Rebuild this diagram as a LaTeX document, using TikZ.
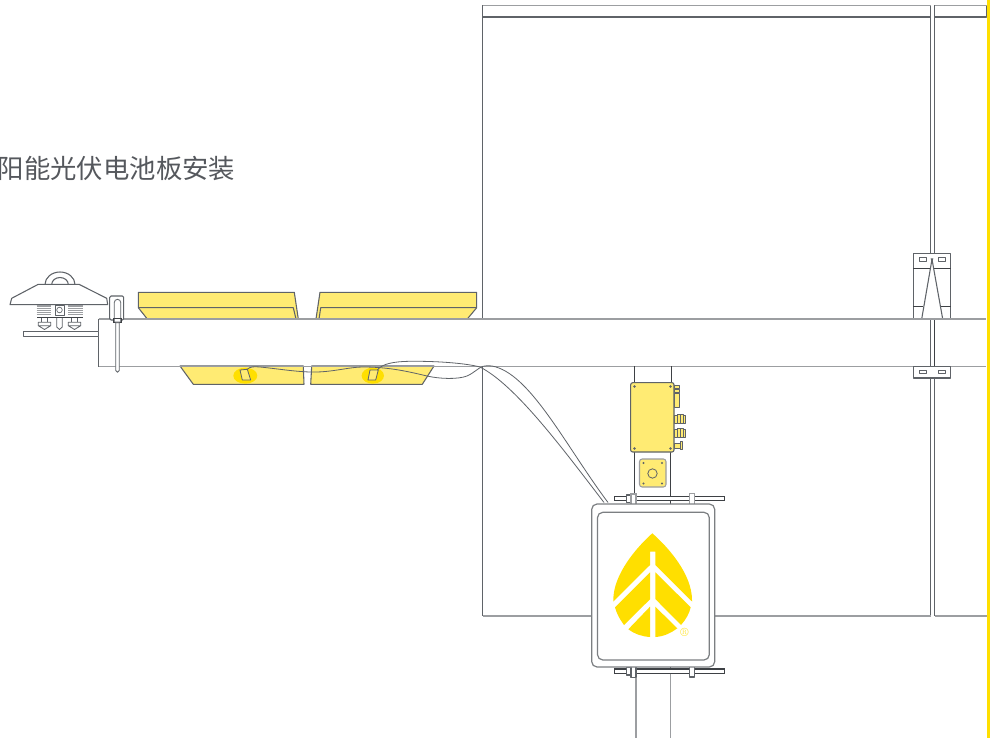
\documentclass[tikz,border=0pt]{standalone}
\usepackage{fontspec}
\newfontfamily\cjk{Noto Sans CJK SC}
\definecolor{linegray}{HTML}{5F6368}
\definecolor{lightgray2}{HTML}{9C9EA1}
\definecolor{signgray}{HTML}{7C7F82}
\definecolor{darkline}{HTML}{3E4145}
\definecolor{panel}{HTML}{FFEB73}
\definecolor{spot}{HTML}{FFDF00}
\definecolor{titlegray}{HTML}{55585D}
\tikzset{
  x=0.75pt,y=-0.75pt,
  ln/.style={draw=linegray,line width=0.8pt,line join=round},
  thn/.style={draw=linegray,line width=0.6pt,line join=round},
  lt/.style={draw=lightgray2,line width=1pt},
  dk/.style={draw=darkline,line width=0.8pt},
  pv/.style={ln,fill=panel},
  cable/.style={draw=linegray,line width=0.6pt},
  signbox/.style={draw=signgray,line width=0.9pt,fill=white,rounded corners=4pt},
}
\begin{document}
\begin{tikzpicture}
\useasboundingbox (0,0) rectangle (997,738);
\fill[white] (0,0) rectangle (997,738);
% yellow edge
\fill[spot] (986.8,0) rectangle (990,738);
% building walls
\draw[ln] (482.5,5.5) rectangle (930.5,17);
\draw[ln] (934.5,5.5) rectangle (986.5,17);
\draw[lt] (482.5,5.5) -- (930.5,5.5) (934.5,5.5) -- (986.5,5.5);
\draw[ln] (482.5,17) -- (482.5,319);
\draw[ln] (930.5,17) -- (930.5,253);
\draw[ln] (934.5,17) -- (934.5,253);
\draw[ln] (482.5,366) -- (482.5,616);
\draw[ln] (930.5,378) -- (930.5,616);
\draw[ln] (934.5,378) -- (934.5,616);
\draw[lt] (482.5,616) -- (592,616) (714,616) -- (930.5,616) (934.5,616) -- (986.5,616);
\draw[ln] (930.5,319) -- (930.5,366);
\draw[dk] (934.5,319) -- (934.5,366);
% top panels
\draw[pv] (138.3,292.3) -- (294.3,292.3) -- (298.3,319) -- (147.3,319) -- (138.3,307.7) -- cycle;
\draw[ln] (138.3,307.7) -- (293.3,307.7) -- (296,319);
\draw[pv] (320,292.3) -- (476.7,292.3) -- (476.7,307.7) -- (467.3,319) -- (316,319) -- cycle;
\draw[ln] (476.7,307.7) -- (320.7,307.7) -- (319,319);
% lower panels
\draw[pv] (180,366) -- (303.3,366) -- (304,384.3) -- (193.3,384.3) -- cycle;
\draw[pv] (311.7,366) -- (434,366) -- (422.3,384.3) -- (310.7,384.3) -- cycle;
\fill[spot] (245.3,375.7) ellipse (12 and 8);
\fill[spot] (372.8,375.7) ellipse (11.2 and 8);
\draw[thn,fill=panel] (240,370) -- (247.3,369.3) -- (250.7,380) -- (242.3,380) -- cycle;
\draw[thn,fill=panel] (370,370) -- (378.3,370) -- (375.7,380) -- (368,380) -- cycle;
% mounting beam
\draw[lt] (98.5,319) -- (986,319);
\draw[lt] (98.5,366.5) -- (986,366.5);
\draw[ln] (98.5,319) -- (98.5,366.5);
% cables
\draw[cable] (247.3,369.3) .. controls (250,366.5) and (254,366.5) .. (260,367) .. controls (280,369) and (300,372.5) .. (317,372) .. controls (335,371.5) and (350,367) .. (363,367) .. controls (390,367) and (410,372) .. (427,376) .. controls (440,379) and (458,379.5) .. (467,376) .. controls (474,373) and (478,368) .. (483,366.3) .. controls (486,365.5) and (489,365.5) .. (492,366) .. controls (530,373) and (565,445) .. (608,502.5);
\draw[cable] (377.5,369.8) .. controls (382,364) and (393,361.5) .. (410,361.3) .. controls (435,361) and (465,363) .. (480,367) .. controls (515,385) and (560,445) .. (604,502.5);
% pole segments under beam
\draw[dk] (634.5,366) -- (634.5,383) (671.5,366) -- (671.5,383);
\draw[dk] (634.5,452) -- (634.5,497) (670.5,452) -- (670.5,497);
\draw[dk] (670.5,500) -- (670.5,504);
% junction box fittings
\draw[thn,fill=panel] (674,385) rectangle (679,388);
\draw[thn,fill=panel] (674,389) rectangle (679,392);
\draw[thn,fill=panel] (674,393) rectangle (679,407);
\foreach \yy in {419,433}{
 \draw[thn,fill=panel] (674,\yy-4) rectangle (685,\yy+4);
 \draw[thn,fill=panel] (677,\yy-4.5) rectangle (683,\yy+4.5);
 \draw[thn] (680,\yy-4.5) -- (680,\yy+4.5);
}
\draw[thn,fill=panel] (674,443) rectangle (680,448);
\draw[thn,fill=panel] (680,441.5) rectangle (682.5,449.5);
\draw[ln,fill=panel,rounded corners=1.5pt] (630.7,382.7) rectangle (674,452);
\foreach \p in {(634.5,386.5),(670.5,386.5),(634.5,448.5),(670.5,448.5)} \fill[linegray] \p circle (1.4);
\draw[ln,draw=lightgray2,fill=panel,rounded corners=2pt] (639.5,459) rectangle (666,487);
\draw[thn] (652.5,473.5) circle (4.7);
\foreach \p in {(643.5,463),(662,463),(643.5,483.5),(662,483.5)} \fill[linegray] \p circle (1.2);
% clamps
\draw[dk,fill=white] (614.5,496.3) rectangle (724.5,500.7);
\draw[ln,fill=white] (626.7,495) rectangle (631,502.7);
\draw[lt,fill=white] (631,494) rectangle (636,504.3);
\draw[lt,fill=white] (689.3,493.7) rectangle (694.3,504.3);
\draw[dk,fill=white] (614.5,669) rectangle (724.5,673.3);
\draw[ln,fill=white] (626.7,667.5) rectangle (631,675);
\draw[ln,fill=white] (631,666.7) rectangle (636,677.7);
\draw[ln,fill=white] (689.3,666.7) rectangle (694.3,677);
% lower pole
\draw[lt] (636,677.7) -- (636,738) (670.5,673.5) -- (670.5,738);
\draw[dk] (670.5,666) -- (670.5,669);
% sign
\draw[signbox] (591.7,504) rectangle (714.7,667);
\draw[signbox] (597.5,512.3) rectangle (709.3,660);
\fill[spot] (652.3,533.3) .. controls (668,547) and (692,574) .. (692,600) -- (692,601.5) -- (655.3,565) -- (655.3,551.7) -- (650,551.7) -- (650,565) -- (613.3,601.5) -- (613.3,600) .. controls (613.3,574) and (637,547) .. (652.3,533.3) -- cycle;
\fill[spot] (650,572.3) -- (650,599.3) -- (624,625) .. controls (619.5,619) and (616.5,613) .. (615,607.3) -- cycle;
\fill[spot] (655.3,572.3) -- (690.7,607.3) .. controls (689.5,613) and (686,619.5) .. (681,625) -- (655.3,599) -- cycle;
\fill[spot] (650,606.7) -- (650,637) .. controls (642,636.5) and (634.5,634) .. (628.3,629.3) -- cycle;
\fill[spot] (655.3,606.7) -- (677.3,628.3) .. controls (671,633) and (664,636.5) .. (655.3,637) -- cycle;
\node[inner sep=0pt,text=spot!85!white,font=\fontsize{9}{9}\selectfont] (reg) at (684.5,632) {\textregistered};
% sensor
\draw[ln,fill=white] (23.5,331.5) rectangle (98.5,336.5);
\draw[ln] (45,284.5) arc[start angle=180,end angle=360,x radius=15,y radius=12.5];
\draw[ln] (51.7,284.5) arc[start angle=180,end angle=360,x radius=8.3,y radius=7];
\draw[ln,fill=white] (38.3,284.3) -- (79,284.3) -- (106.7,298.3) -- (107.7,304.7) -- (10,304.7) -- (11.7,298.3) -- cycle;
\foreach \yy in {306,308.2,310.4,312.6,314.8}{
 \draw[lt,line width=0.9pt] (36.7,\yy) -- (51,\yy) (68.3,\yy) -- (83.3,\yy);
}
\draw[thn,line width=0.5pt] (55,305.5) rectangle (64,315);
\draw[thn,line width=0.5pt] (59.5,310) circle (2.8);
\draw[dk] (37,317.3) -- (83,317.3);
\draw[thn] (41.7,318) -- (41.7,322.3) (47.7,318) -- (47.7,322.3);
\draw[thn] (71.7,318) -- (71.7,322.3) (77.7,318) -- (77.7,322.3);
\draw[thn,fill=white] (38.3,322.3) rectangle (50.7,325.7) (38.3,325.7) -- (44.5,329.5) -- (50.7,325.7);
\draw[thn,fill=white] (68.3,322.3) rectangle (80.7,325.7) (68.3,325.7) -- (74.5,329.5) -- (80.7,325.7);
\draw[thn] (56.7,318) -- (56.7,327) -- (59.5,329.5) -- (62.3,327) -- (62.3,318);
% mast clamp
\draw[ln,fill=white,rounded corners=1pt] (109.7,296) rectangle (123.7,320);
\draw[thn,fill=white] (114.3,322) -- (114.3,302.5) arc[start angle=180,end angle=360,x radius=3.2,y radius=3.2] -- (120.7,322) -- cycle;
\draw[dk,line width=0.6pt] (113.3,318.3) rectangle (121.7,322.7);
\draw[thn,fill=white] (115.7,322.7) -- (115.7,370.5) arc[start angle=180,end angle=0,x radius=1.8,y radius=1.8] -- (119.3,322.7) -- cycle;
% right bracket
\draw[ln,fill=white] (913.3,253.3) rectangle (950.7,319);
\draw[dk] (913.3,268.3) -- (950.7,268.3);
\draw[dk] (913.3,306.3) -- (923,306.3) (941,306.3) -- (950.7,306.3);
\draw[ln,fill=white] (921.7,319) -- (932,259.3) -- (942.7,319);
\fill[linegray] (930.7,258.5) -- (933.3,258.5) -- (932,263) -- cycle;
\draw[thn] (919.3,257.3) rectangle (926,261.3);
\draw[thn] (938.3,257.3) rectangle (945.3,261.3);
\draw[lt] (913.3,319) -- (950.7,319);
\draw[ln,fill=white] (913.3,366.5) rectangle (950.7,378);
\draw[thn] (919.3,370) rectangle (926,373.7);
\draw[thn] (938.3,370) rectangle (945.3,373.7);
% title
\node[anchor=west,inner sep=0pt,text=titlegray,font=\cjk\fontsize{19.8}{19.8}\selectfont] (title) at (-2.5,169) {阳能光伏电池板安装};
\end{tikzpicture}
\end{document}
